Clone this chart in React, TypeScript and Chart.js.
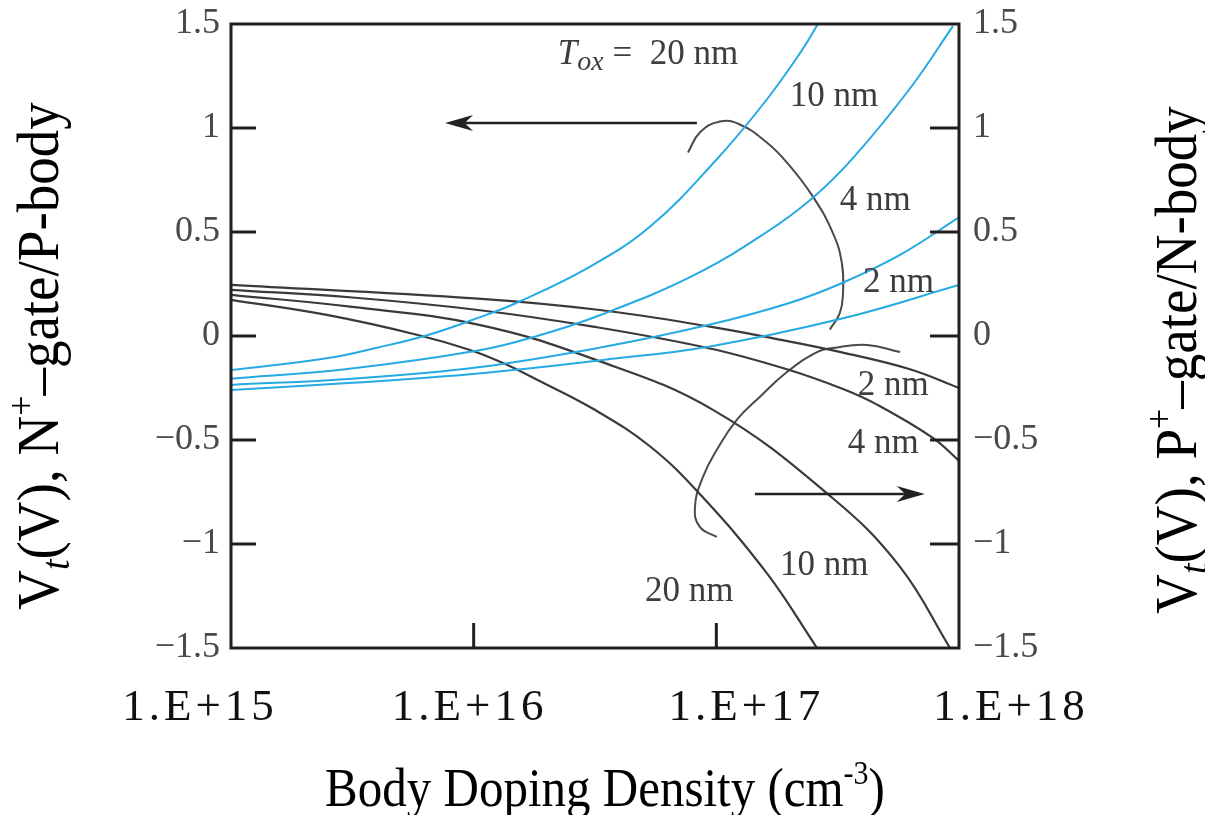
import React, { useEffect, useRef } from "react";
import { Chart, registerables } from "chart.js";

Chart.register(...registerables);

// ---------- data (x = log10 of body doping density in cm^-3, y = Vt in volts) ----------
// N+ gate / P-body (left axis, blue)
const blue20Log = [15.0, 15.4, 15.606, 15.812, 16.018, 16.178, 16.467, 16.726, 17.002, 17.208, 17.345, 17.419];
const blue20V = [-0.164, -0.106, -0.055, 0.005, 0.087, 0.16, 0.325, 0.525, 0.85, 1.137, 1.36, 1.5];
const blue10Log = [15.0, 15.47, 16.018, 16.261, 16.52, 16.904, 17.208, 17.398, 17.559, 17.798, 17.975];
const blue10V = [-0.205, -0.16, -0.07, 0.0, 0.1, 0.29, 0.5, 0.665, 0.85, 1.19, 1.49];
const blue4Log = [15.0, 15.5, 16.018, 16.533, 16.974, 17.291, 17.509, 17.757, 18.0];
const blue4V = [-0.235, -0.205, -0.15, -0.053, 0.055, 0.155, 0.25, 0.39, 0.57];
const blue2Log = [15.0, 15.5, 16.018, 16.533, 16.974, 17.522, 18.0];
const blue2V = [-0.26, -0.225, -0.18, -0.115, -0.05, 0.085, 0.245];

// P+ gate / N-body (right axis, black)
const black2Log = [15.0, 16.018, 16.52, 16.974, 17.25, 17.522, 17.798, 18.0];
const black2V = [0.246, 0.18, 0.125, 0.045, -0.015, -0.08, -0.16, -0.25];
const black4Log = [15.0, 15.5, 16.018, 16.492, 16.974, 17.291, 17.522, 17.662, 17.892, 18.0];
const black4V = [0.222, 0.185, 0.125, 0.045, -0.06, -0.16, -0.255, -0.33, -0.49, -0.6];
const black10Log = [15.0, 15.5, 16.018, 16.492, 16.986, 17.48, 17.757, 17.963];
const black10V = [0.198, 0.14, 0.055, -0.11, -0.355, -0.78, -1.11, -1.5];
const black20Log = [15.0, 15.4, 15.77, 15.985, 16.121, 16.261, 16.492, 16.726, 16.932, 17.208, 17.415];
const black20V = [0.174, 0.1, 0.005, -0.067, -0.13, -0.21, -0.35, -0.53, -0.76, -1.14, -1.5];

// "increasing Tox" loops
const upperLoopLog = [16.883, 16.932, 17.015, 17.097, 17.208, 17.291, 17.398, 17.48, 17.517, 17.522, 17.509, 17.468];
const upperLoopV = [0.882, 0.978, 1.031, 1.017, 0.93, 0.834, 0.67, 0.496, 0.352, 0.207, 0.111, 0.031];
const lowerLoopLog = [17.757, 17.621, 17.48, 17.415, 17.291, 17.18, 17.085, 17.002, 16.945, 16.912, 16.932, 17.002];
const lowerLoopV = [-0.077, -0.043, -0.058, -0.077, -0.173, -0.292, -0.402, -0.547, -0.677, -0.822, -0.918, -0.966];

// arrows pointing to the relevant axis: [fromLog, toLog, V]
const leftArrow = [16.92, 15.882, 1.024];
const rightArrow = [17.159, 17.859, -0.76];

// tick labels
const xTickExps = [15, 16, 17, 18];
const xTickLabels = ["1.E+15", "1.E+16", "1.E+17", "1.E+18"];
const yTickValues = [-1.5, -1, -0.5, 0, 0.5, 1, 1.5];
const yTickLabels = ["\u22121.5", "\u22121", "\u22120.5", "0", "0.5", "1", "1.5"];

// curve labels
const curveLabelTexts = ["10 nm", "4 nm", "2 nm", "2 nm", "4 nm", "10 nm", "20 nm"];
const curveLabelLog = [17.303, 17.509, 17.604, 17.583, 17.542, 17.262, 16.706];
const curveLabelV = [1.164, 0.665, 0.27, -0.227, -0.506, -1.089, -1.214];
const toxLabelPos = [16.347, 1.364];

const SERIF = "'Liberation Serif', 'Times New Roman', serif";
const BLUE = "#25aae3";
const DARK = "#3a3a3a";

const pts = (logs: number[], vs: number[]) => logs.map((l, i) => ({ x: Math.pow(10, l), y: vs[i] }));

type Run = { text: string; font: string; dy?: number };
function drawRuns(ctx: CanvasRenderingContext2D, runs: Run[], x: number, y: number, align: "center" | "left") {
  let total = 0;
  for (const r of runs) {
    ctx.font = r.font;
    total += ctx.measureText(r.text).width;
  }
  let cx = align === "center" ? x - total / 2 : x;
  ctx.textAlign = "left";
  ctx.textBaseline = "alphabetic";
  for (const r of runs) {
    ctx.font = r.font;
    ctx.fillText(r.text, cx, y + (r.dy || 0));
    cx += ctx.measureText(r.text).width;
  }
}

function drawArrow(ctx: CanvasRenderingContext2D, x1: number, y1: number, x2: number, y2: number) {
  const dir = Math.sign(x2 - x1);
  const headLen = 28;
  const half = 8;
  ctx.save();
  ctx.strokeStyle = "#222";
  ctx.fillStyle = "#222";
  ctx.lineWidth = 2.5;
  ctx.beginPath();
  ctx.moveTo(x1, y1);
  ctx.lineTo(x2 - dir * headLen * 0.6, y2);
  ctx.stroke();
  ctx.beginPath();
  ctx.moveTo(x2, y2);
  ctx.lineTo(x2 - dir * headLen, y2 - half);
  ctx.lineTo(x2 - dir * headLen * 0.7, y2);
  ctx.lineTo(x2 - dir * headLen, y2 + half);
  ctx.closePath();
  ctx.fill();
  ctx.restore();
}

const decorPlugin = {
  id: "decor",
  afterDraw(chart: any) {
    const ctx: CanvasRenderingContext2D = chart.ctx;
    const { left, right, top, bottom } = chart.chartArea;
    const xs = chart.scales.x;
    const ys = chart.scales.y;
    const px = (l: number) => xs.getPixelForValue(Math.pow(10, l));
    const py = (v: number) => ys.getPixelForValue(v);

    ctx.save();
    // frame
    ctx.strokeStyle = "#231f20";
    ctx.lineWidth = 3;
    ctx.strokeRect(left, top, right - left, bottom - top);

    // inner ticks
    ctx.beginPath();
    yTickValues.forEach((v) => {
      if (Math.abs(v) > 1.4) return;
      const y = py(v);
      ctx.moveTo(left, y);
      ctx.lineTo(left + 25, y);
      ctx.moveTo(right, y);
      ctx.lineTo(right - 29, y);
    });
    xTickExps.forEach((e, i) => {
      if (i === 0 || i === xTickExps.length - 1) return;
      const x = px(e);
      ctx.moveTo(x, bottom);
      ctx.lineTo(x, bottom - 25);
    });
    ctx.stroke();

    // x tick labels
    const shift = [-33, -6, 28, 50];
    ctx.fillStyle = "#111";
    ctx.font = `45px ${SERIF}`;
    ctx.textAlign = "center";
    ctx.textBaseline = "alphabetic";
    try {
      (ctx as any).letterSpacing = "4px";
    } catch (e) {}
    xTickExps.forEach((e, i) => {
      ctx.fillText(xTickLabels[i], px(e) + shift[i] + 2, bottom + 72);
    });
    try {
      (ctx as any).letterSpacing = "0px";
    } catch (e) {}

    // x axis title
    ctx.fillStyle = "#000";
    ctx.save();
    ctx.translate(605, 806);
    ctx.scale(1, 1.1);
    drawRuns(
      ctx,
      [
        { text: "Body Doping Density (cm", font: `49px ${SERIF}` },
        { text: "-3", font: `30px ${SERIF}`, dy: -20 },
        { text: ")", font: `49px ${SERIF}` },
      ],
      0,
      0,
      "center"
    );
    ctx.restore();

    // left y title
    ctx.save();
    ctx.translate(58, 356);
    ctx.rotate(-Math.PI / 2);
    ctx.scale(1, 1.08);
    drawRuns(
      ctx,
      [
        { text: "V", font: `55px ${SERIF}` },
        { text: "t", font: `italic 38px ${SERIF}`, dy: 10 },
        { text: "(V), N", font: `55px ${SERIF}` },
        { text: "+", font: `36px ${SERIF}`, dy: -22 },
        { text: "\u2013gate/P-body", font: `55px ${SERIF}` },
      ],
      0,
      0,
      "center"
    );
    ctx.restore();

    // right y title
    ctx.save();
    ctx.translate(1196, 360);
    ctx.rotate(-Math.PI / 2);
    ctx.scale(1, 1.08);
    drawRuns(
      ctx,
      [
        { text: "V", font: `55px ${SERIF}` },
        { text: "t", font: `italic 38px ${SERIF}`, dy: 10 },
        { text: "(V), P", font: `55px ${SERIF}` },
        { text: "+", font: `36px ${SERIF}`, dy: -22 },
        { text: "\u2013gate/N-body", font: `55px ${SERIF}` },
      ],
      0,
      0,
      "center"
    );
    ctx.restore();

    // curve labels
    ctx.fillStyle = "#3d3d3d";
    curveLabelTexts.forEach((t, i) => {
      drawRuns(ctx, [{ text: t, font: `35px ${SERIF}` }], px(curveLabelLog[i]), py(curveLabelV[i]) + 12, "left");
    });
    drawRuns(
      ctx,
      [
        { text: "T", font: `italic 35px ${SERIF}` },
        { text: "ox", font: `italic 28px ${SERIF}`, dy: 6 },
        { text: " =\u200220 nm", font: `35px ${SERIF}` },
      ],
      px(toxLabelPos[0]),
      py(toxLabelPos[1]) + 12,
      "left"
    );

    // arrows
    drawArrow(ctx, px(leftArrow[0]), py(leftArrow[2]), px(leftArrow[1]), py(leftArrow[2]));
    drawArrow(ctx, px(rightArrow[0]), py(rightArrow[2]), px(rightArrow[1]), py(rightArrow[2]));
    ctx.restore();
  },
};

export default function App() {
  const ref = useRef<HTMLCanvasElement | null>(null);

  useEffect(() => {
    if (!ref.current) return;
    const curve = (data: any[], color: string, width: number) => ({
      data,
      borderColor: color,
      borderWidth: width,
      pointRadius: 0,
      fill: false,
      tension: 0.4,
    });
    const loop = (data: any[]) => ({
      data,
      borderColor: "#4a4a4a",
      borderWidth: 2,
      pointRadius: 0,
      fill: false,
      tension: 0.45,
    });
    const yTickCb = (v: any) => {
      const i = yTickValues.findIndex((t) => Math.abs(t - Number(v)) < 1e-6);
      return i >= 0 ? yTickLabels[i] : "";
    };
    const fitY = (w: number) => (s: any) => {
      s.width = w;
      s.paddingTop = 0;
      s.paddingBottom = 0;
    };
    const chart = new Chart(ref.current, {
      type: "line",
      data: {
        datasets: [
          curve(pts(blue20Log, blue20V), BLUE, 2),
          curve(pts(blue10Log, blue10V), BLUE, 2),
          curve(pts(blue4Log, blue4V), BLUE, 2),
          curve(pts(blue2Log, blue2V), BLUE, 2),
          curve(pts(black2Log, black2V), DARK, 2.2),
          curve(pts(black4Log, black4V), DARK, 2.2),
          curve(pts(black10Log, black10V), DARK, 2.2),
          curve(pts(black20Log, black20V), DARK, 2.2),
          loop(pts(upperLoopLog, upperLoopV)),
          loop(pts(lowerLoopLog, lowerLoopV)),
        ],
      },
      options: {
        responsive: false,
        animation: false,
        devicePixelRatio: 1,
        layout: { padding: { top: 24, left: 0, right: 0, bottom: 0 } },
        plugins: { legend: { display: false }, tooltip: { enabled: false } },
        scales: {
          x: {
            type: "logarithmic",
            min: 1e15,
            max: 1e18,
            grid: { display: false, drawTicks: false },
            border: { display: false },
            ticks: { display: false },
            afterFit: (s: any) => {
              s.height = 815 - 648;
              s.paddingLeft = 0;
              s.paddingRight = 0;
            },
          },
          y: {
            type: "linear",
            position: "left",
            min: -1.5,
            max: 1.5,
            grid: { display: false, drawTicks: false },
            border: { display: false },
            ticks: {
              stepSize: 0.5,
              autoSkip: false,
              padding: 11,
              color: "#4a4a4a",
              font: { family: SERIF, size: 36 },
              callback: yTickCb,
            },
            afterFit: fitY(231),
          },
          y2: {
            type: "linear",
            position: "right",
            min: -1.5,
            max: 1.5,
            grid: { display: false, drawTicks: false },
            border: { display: false },
            ticks: {
              stepSize: 0.5,
              autoSkip: false,
              padding: 14,
              color: "#4a4a4a",
              font: { family: SERIF, size: 36 },
              callback: yTickCb,
            },
            afterFit: fitY(1205 - 959),
          },
        },
      } as any,
      plugins: [decorPlugin],
    });
    return () => chart.destroy();
  }, []);

  return (
    <div style={{ position: "absolute", left: 0, top: 0, width: 1205, height: 815, background: "#fff" }}>
      <canvas ref={ref} width={1205} height={815} style={{ display: "block" }} />
    </div>
  );
}
